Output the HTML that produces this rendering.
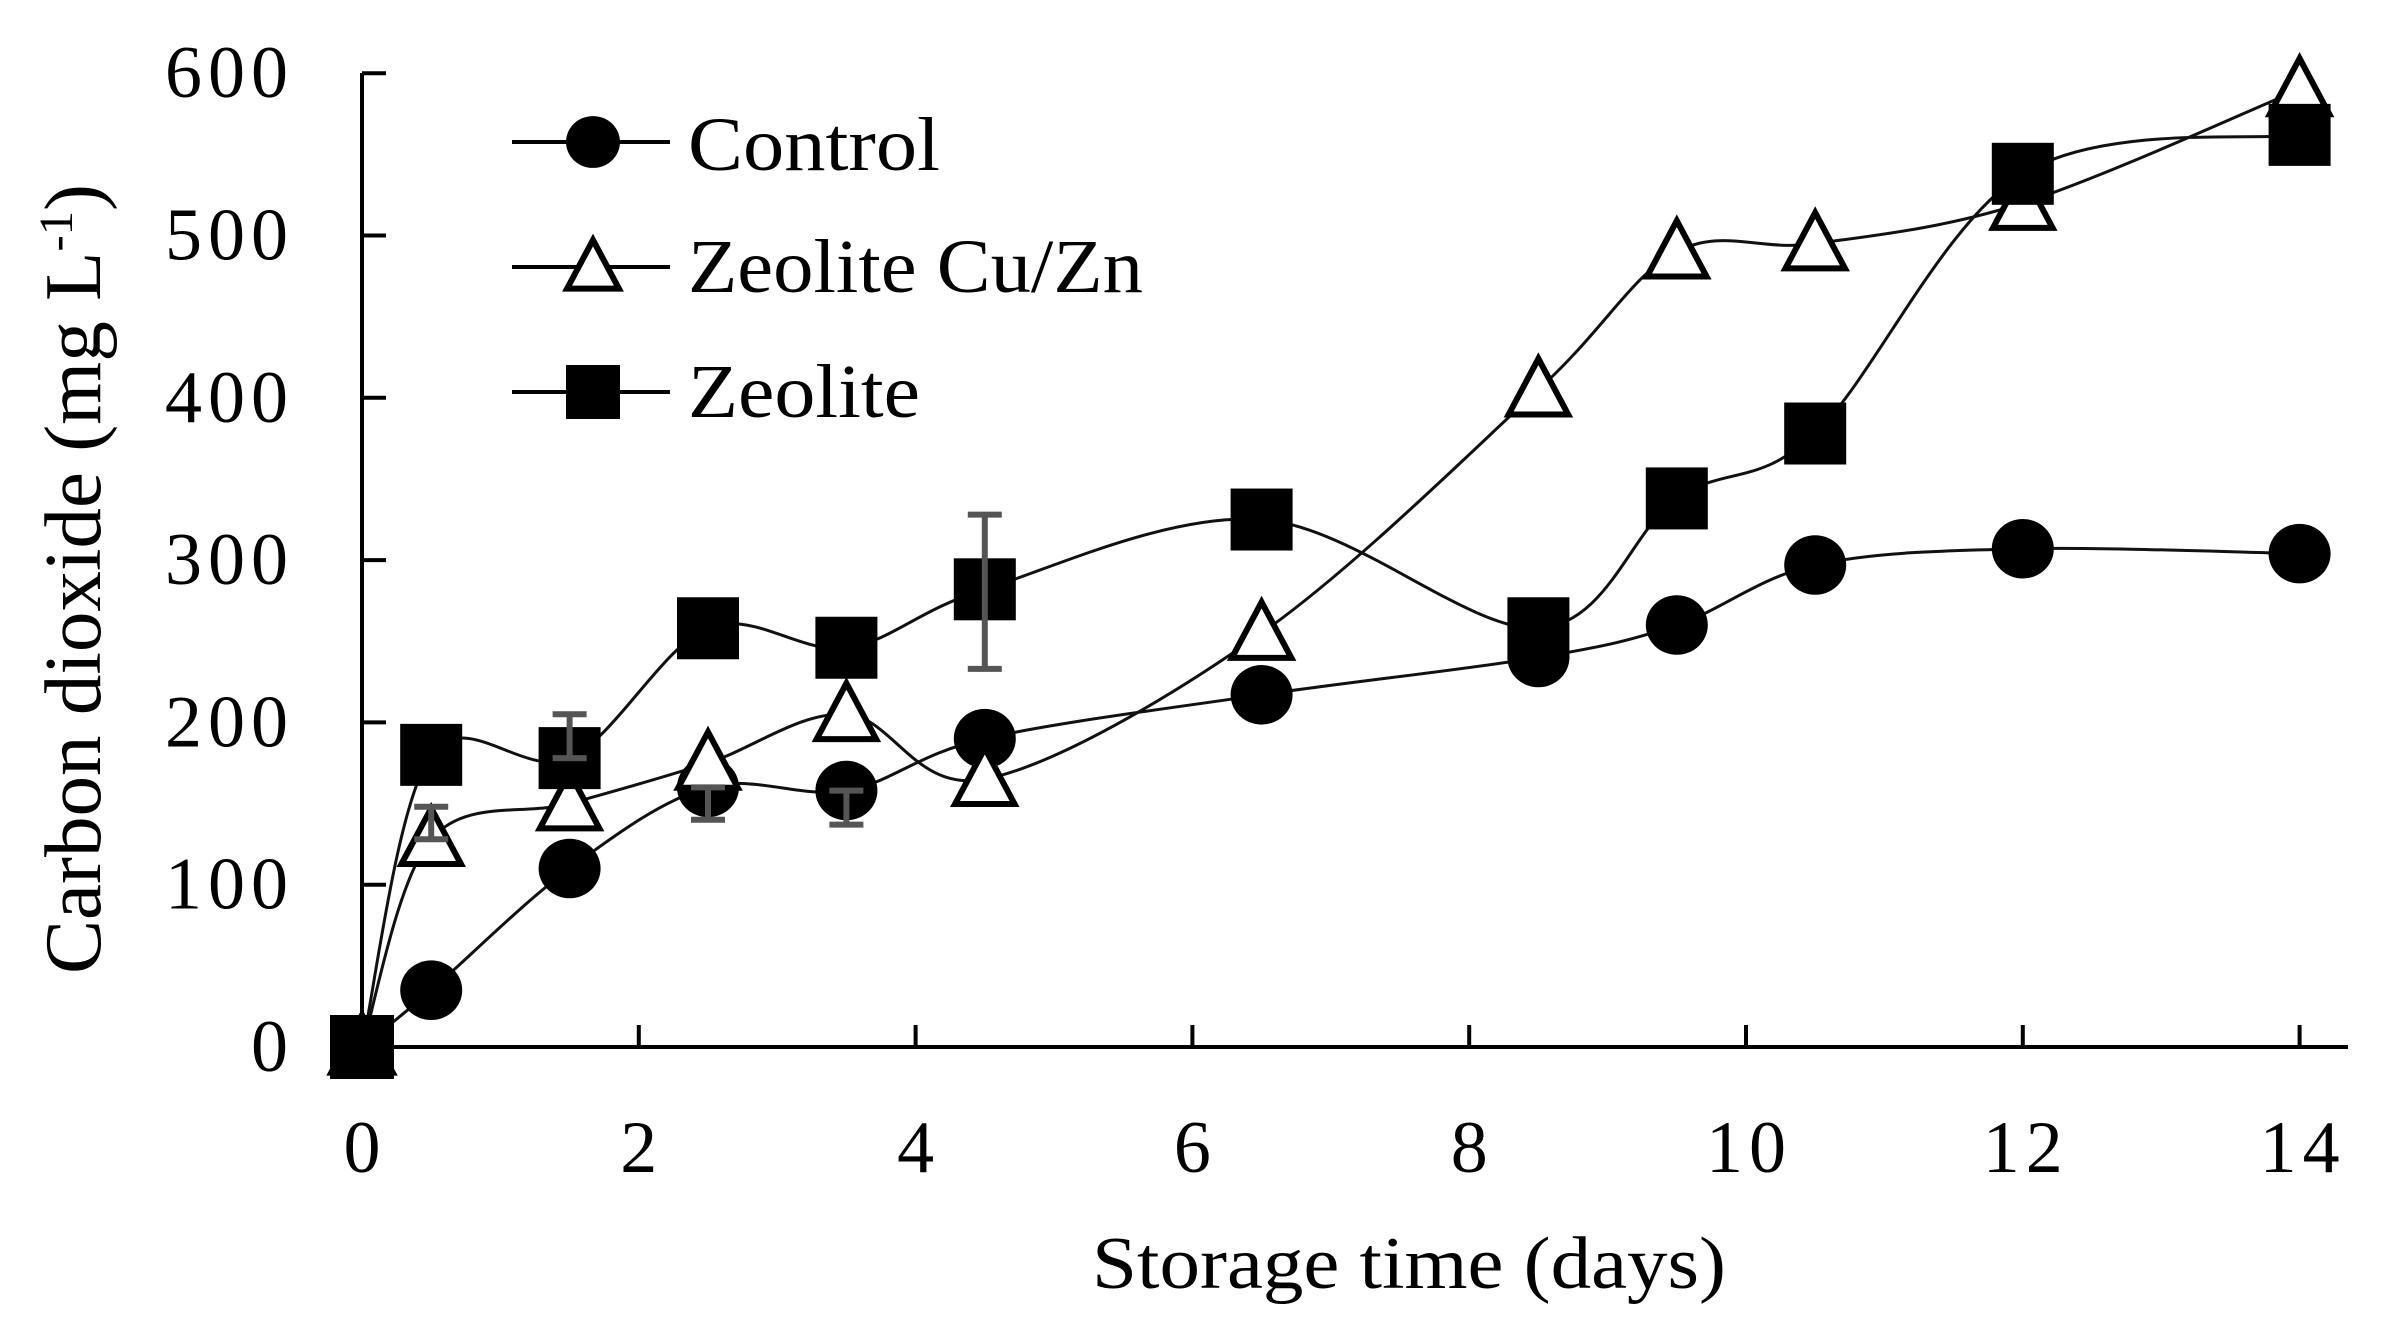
<!DOCTYPE html>
<html><head><meta charset="utf-8"><style>
html,body{margin:0;padding:0;background:#fff;}
svg{display:block;}
text{font-family:"Liberation Serif",serif;fill:#000;}
</style></head><body>
<svg id="chart" width="2381" height="1335" viewBox="0 0 2381 1335">
<g id="axes"></g><g id="series"></g><g id="legend"></g>
</svg>
<script>
const days=[0,0.5,1.5,2.5,3.5,4.5,6.5,8.5,9.5,10.5,12,14];
const controlVals=[0,35,110,160,158,190,217,240,260,297,307,304];
const cuznVals=[0,128,150,175,205,165,255,405,490,495,520,590];
const zeoliteVals=[0,180,178,258,246,282,325,258,338,378,538,562];
const yTicks=[0,100,200,300,400,500,600];
const xTicks=[0,2,4,6,8,10,12,14];
// error bars: [series, index, low, high]
const errSeries=['zeolite','zeolite','control','control','cuzn'];
const errIndex=[2,5,4,3,1];
const errLow=[178,233,137,140,128];
const errHigh=[205,328,158,160,148];

const NS='http://www.w3.org/2000/svg';
const X0=362,XS=138.4,Y0=1047,YS=1.623;
const sx=v=>X0+v*XS, sy=v=>Y0-v*YS;
function mk(tag,attrs,parent){const e=document.createElementNS(NS,tag);for(const k in attrs)e.setAttribute(k,attrs[k]);parent.appendChild(e);return e;}
const axes=document.getElementById('axes'),ser=document.getElementById('series'),leg=document.getElementById('legend');

let a=mk('line',{x1:X0,y1:73,x2:X0,y2:Y0,stroke:'#000','stroke-width':4},axes);


a=mk('line',{x1:X0,y1:Y0,x2:2348,y2:Y0,stroke:'#000','stroke-width':4},axes);


yTicks.forEach(t=>{
 const l=mk('line',{x1:X0,y1:sy(t),x2:X0+24,y2:sy(t),stroke:'#000','stroke-width':4},axes);
 
 
 const tx=mk('text',{x:294,y:sy(t)+24,'font-size':74,'text-anchor':'end','letter-spacing':6},axes);
 tx.textContent=t;
 
 
});
xTicks.forEach(t=>{
 if(t>0){const l=mk('line',{x1:sx(t),y1:Y0,x2:sx(t),y2:Y0-22,stroke:'#000','stroke-width':4},axes);
 
 }
 const tx=mk('text',{x:sx(t)+3,y:1172,'font-size':74,'text-anchor':'middle','letter-spacing':6},axes);
 tx.textContent=t;
 
 
});
let tt=mk('text',{x:1409,y:1288,'font-size':74,'text-anchor':'middle',textLength:634,lengthAdjust:'spacingAndGlyphs'},axes);
tt.textContent='Storage time (days)';


tt=mk('text',{x:0,y:0,'font-size':80,'text-anchor':'middle',textLength:790,lengthAdjust:'spacingAndGlyphs',transform:'translate(100,579) rotate(-90)'},axes);
tt.innerHTML='Carbon dioxide (mg L<tspan dy="-28" font-size="48">-1</tspan><tspan dy="28">)</tspan>';



function smooth(xs,ys){
 const p=xs.map((x,i)=>[sx(x),sy(ys[i])]);
 let d='M'+p[0][0]+','+p[0][1];
 for(let i=0;i<p.length-1;i++){
  const p0=p[Math.max(0,i-1)],p1=p[i],p2=p[i+1],p3=p[Math.min(p.length-1,i+2)];
  const t=1/6;
  d+=' C'+(p1[0]+(p2[0]-p0[0])*t)+','+(p1[1]+(p2[1]-p0[1])*t)+' '+(p2[0]-(p3[0]-p1[0])*t)+','+(p2[1]-(p3[1]-p1[1])*t)+' '+p2[0]+','+p2[1];
 }
 return d;
}
function marker(type,cx,cy,parent,sz){
 let m;
 if(type==='circle') m=mk('ellipse',{cx:cx,cy:cy,rx:sz*0.5,ry:sz*0.48,fill:'#000'},parent);
 else if(type==='square') m=mk('rect',{x:cx-sz/2,y:cy-sz/2,width:sz,height:sz,fill:'#000'},parent);
 else m=mk('polygon',{points:(cx)+','+(cy-sz*0.5)+' '+(cx-sz*0.48)+','+(cy+sz*0.4)+' '+(cx+sz*0.48)+','+(cy+sz*0.4),fill:'#fff',stroke:'#000','stroke-width':6,'stroke-linejoin':'miter'},parent);
 return m;
}
const defs=[['control',controlVals,'circle','Control',252],['cuzn',cuznVals,'triangle','Zeolite Cu/Zn',455],['zeolite',zeoliteVals,'square','Zeolite',232]];
defs.forEach(([key,vals,type])=>{
 const g=mk('g',{},ser);
 
 
 const p=mk('path',{d:smooth(days,vals),fill:'none',stroke:'#111','stroke-width':3},g);
 
 
});
defs.forEach(([key,vals,type])=>{
 const g=mk('g',{},ser);
 days.forEach((d,i)=>{
  const m=marker(type,sx(d),sy(vals[i]),g,d===0?64:62);
  
  
 });
});
errSeries.forEach((s,k)=>{
 const x=sx(days[errIndex[k]]);
 const g=mk('g',{stroke:'#555','stroke-width':6},ser);
 
 
 mk('line',{x1:x,y1:sy(errLow[k]),x2:x,y2:sy(errHigh[k])},g);
 mk('line',{x1:x-17,y1:sy(errLow[k]),x2:x+17,y2:sy(errLow[k])},g);
 mk('line',{x1:x-17,y1:sy(errHigh[k]),x2:x+17,y2:sy(errHigh[k])},g);
});
const ly=[142,267,392],lb=[170,292,417];
defs.forEach(([key,vals,type,label,w],i)=>{
 const g=mk('g',{},leg);
 
 
 mk('line',{x1:512,y1:ly[i],x2:670,y2:ly[i],stroke:'#000','stroke-width':4},g);
 marker(type,593,ly[i],g,54);
 const t=mk('text',{x:688,y:lb[i],'font-size':76,textLength:w,lengthAdjust:'spacingAndGlyphs'},g);
 t.textContent=label;
 
 
});
</script>
</body></html>
